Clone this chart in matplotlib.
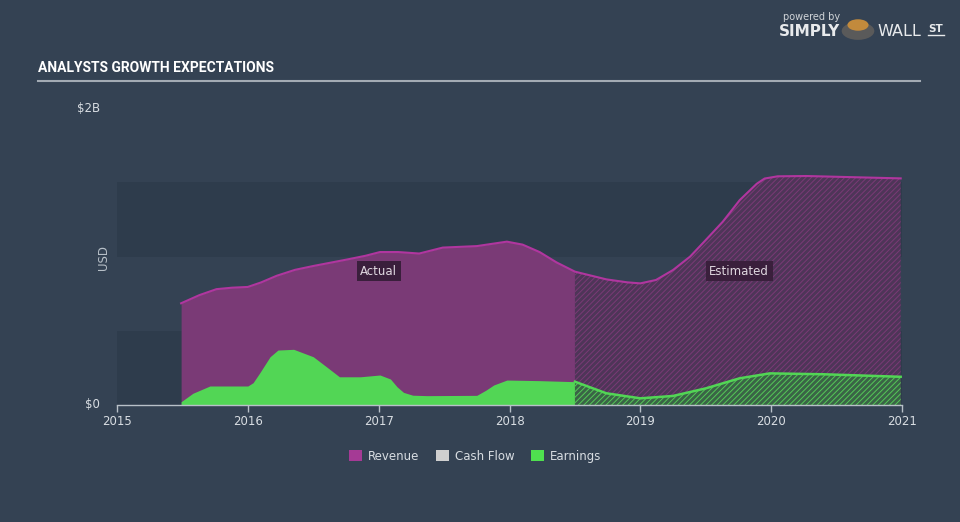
import matplotlib.pyplot as plt
from matplotlib.patches import Patch, Circle

# values in $B, x in decimal years
rev_actual_x = [2015.49, 2015.63, 2015.76, 2015.88, 2016.0, 2016.1, 2016.22, 2016.36, 2016.5,
                2016.76, 2016.9, 2017.01, 2017.15, 2017.31, 2017.49, 2017.75, 2017.98,
                2018.1, 2018.23, 2018.36, 2018.5]
rev_actual_y = [0.685, 0.74, 0.78, 0.79, 0.795, 0.825, 0.87, 0.91, 0.936,
                0.98, 1.005, 1.03, 1.03, 1.02, 1.06, 1.07, 1.10,
                1.08, 1.03, 0.96, 0.898]

rev_est_x = [2018.5, 2018.74, 2018.9, 2019.0, 2019.12, 2019.25, 2019.38, 2019.5, 2019.63,
             2019.76, 2019.89, 2019.95, 2020.05, 2020.27, 2020.99]
rev_est_y = [0.898, 0.846, 0.826, 0.819, 0.842, 0.909, 0.999, 1.111, 1.234,
             1.38, 1.49, 1.525, 1.54, 1.542, 1.526]

earn_actual_x = [2015.49, 2015.58, 2015.71, 2016.0, 2016.04, 2016.09, 2016.17, 2016.23,
                 2016.35, 2016.5, 2016.6, 2016.7, 2016.86, 2017.01, 2017.09, 2017.14,
                 2017.19, 2017.26, 2017.37, 2017.75, 2017.82, 2017.88, 2017.98, 2018.23,
                 2018.5]
earn_actual_y = [0.022, 0.079, 0.128, 0.128, 0.15, 0.215, 0.325, 0.37,
                 0.375, 0.325, 0.258, 0.19, 0.19, 0.202, 0.175, 0.123,
                 0.085, 0.066, 0.063, 0.065, 0.1, 0.135, 0.168, 0.164,
                 0.157]

earn_est_x = [2018.5, 2018.74, 2019.0, 2019.25, 2019.5, 2019.76, 2019.99, 2020.4, 2020.99]
earn_est_y = [0.157, 0.079, 0.045, 0.061, 0.112, 0.18, 0.213, 0.207, 0.19]

year_ticks = [2015, 2016, 2017, 2018, 2019, 2020, 2021]
legend_labels = ["Revenue", "Cash Flow", "Earnings"]

bg = "#344253"
band = "#2e3c4c"
rev_line = "#b0369f"
rev_fill = "#7a3a76"
rev_est_face = "#4e3558"
green = "#52d655"
green_est_face = "#3a6446"

plt.rcParams["hatch.linewidth"] = 0.7

fig = plt.figure(figsize=(9.6, 5.22), dpi=100, facecolor=bg)
ax = fig.add_axes([117 / 960, 1 - 405 / 522, (902 - 117) / 960, (405 - 108) / 522])
ax.set_facecolor(bg)
ax.set_xlim(2015, 2021)
ax.set_ylim(0, 2)

# background bands
ax.axhspan(0, 0.5, color=band, lw=0, zorder=0)
ax.axhspan(1.0, 1.5, color=band, lw=0, zorder=0)

# revenue
ax.fill_between(rev_actual_x, rev_actual_y, color=rev_fill, lw=0, zorder=1)
ax.fill_between(rev_est_x, rev_est_y, facecolor=rev_est_face, edgecolor=rev_fill,
                hatch="//////", lw=0, zorder=1)
ax.plot(rev_actual_x + rev_est_x[1:], rev_actual_y + rev_est_y[1:], color=rev_line,
        lw=1.5, zorder=3)

# earnings
ax.fill_between(earn_actual_x, earn_actual_y, color=green, lw=0, zorder=2)
ax.fill_between(earn_est_x, earn_est_y, facecolor=green_est_face, edgecolor="#55c858",
                hatch="//////", lw=0, zorder=2)
ax.plot(earn_est_x, earn_est_y, color=green, lw=1.8, zorder=3)

for s in ["top", "right", "left"]:
    ax.spines[s].set_visible(False)
ax.spines["bottom"].set_color("#b8c0c8")
ax.spines["bottom"].set_linewidth(1)
ax.set_xticks(year_ticks)
ax.set_xticklabels([str(y) for y in year_ticks])
ax.tick_params(axis="x", colors="#b8c0c8", labelcolor="#d8dde2", labelsize=8.5,
               length=5, width=1, pad=2)
ax.set_yticks([])

# y labels
fig.text(100 / 960, 1 - 108 / 522, "$2B", color="#d8dde2", fontsize=8.5,
         ha="right", va="center")
fig.text(100 / 960, 1 - 404 / 522, "$0", color="#d8dde2", fontsize=8.5,
         ha="right", va="center")
fig.text(104 / 960, 1 - 258 / 522, "USD", color="#b8c0c8", fontsize=8.5,
         rotation=90, ha="center", va="center")

# period labels
box = dict(boxstyle="square,pad=0.3", facecolor="#3a1f3c", edgecolor="none")
ax.text(2017.0, 0.9, "Actual", color="#e0d8e0", fontsize=8.5, ha="center",
        va="center", bbox=box, zorder=5)
ax.text(2019.755, 0.9, "Estimated", color="#e0d8e0", fontsize=8.5, ha="center",
        va="center", bbox=box, zorder=5)

# title
fig.text(38 / 960, 1 - 68 / 522, "ANALYSTS GROWTH EXPECTATIONS", color="white",
         fontsize=10, fontweight="bold", family=["Roboto", "DejaVu Sans"],
         ha="left", va="center")
fig.add_artist(plt.Line2D([38 / 960, 920 / 960], [1 - 81 / 522, 1 - 81 / 522],
                          color="#a3abb4", lw=1.5))

# logo
fig.text(812 / 960, 1 - 17 / 522, "powered by", color="#d0d4d8", fontsize=7,
         ha="center", va="center")
fig.text(840 / 960, 1 - 31 / 522, "SIMPLY", color="#e8eaec", fontsize=11,
         fontweight="bold", ha="right", va="center")
fig.add_artist(Circle((858 / 960, 1 - 31 / 522), 0.017, transform=fig.transFigure,
                      facecolor="#5a5a5a", edgecolor="none"))
fig.add_artist(Circle((858 / 960, 1 - 25 / 522), 0.011, transform=fig.transFigure,
                      facecolor="#c28a3c", edgecolor="none"))
fig.text(877 / 960, 1 - 31 / 522, "WALL", color="#e8eaec", fontsize=11.5,
         ha="left", va="center")
fig.text(928 / 960, 1 - 29 / 522, "ST", color="#e8eaec", fontsize=7.5,
         fontweight="bold", ha="left", va="center")
fig.add_artist(plt.Line2D([928 / 960, 944 / 960], [1 - 35 / 522, 1 - 35 / 522],
                          color="#e8eaec", lw=1))

# legend
handles = [Patch(facecolor="#a53a95", edgecolor="none"),
           Patch(facecolor="#cfcfcf", edgecolor="none"),
           Patch(facecolor="#4fe04f", edgecolor="none")]
leg = fig.legend(handles, legend_labels, loc="center", ncol=3, frameon=False,
                 bbox_to_anchor=(475 / 960, 1 - 456 / 522), fontsize=8.5,
                 handlelength=1.1, handleheight=1.0, columnspacing=1.4,
                 handletextpad=0.5)
for t in leg.get_texts():
    t.set_color("#d8dde2")

fig.savefig("out.png", dpi=100, facecolor=bg)
